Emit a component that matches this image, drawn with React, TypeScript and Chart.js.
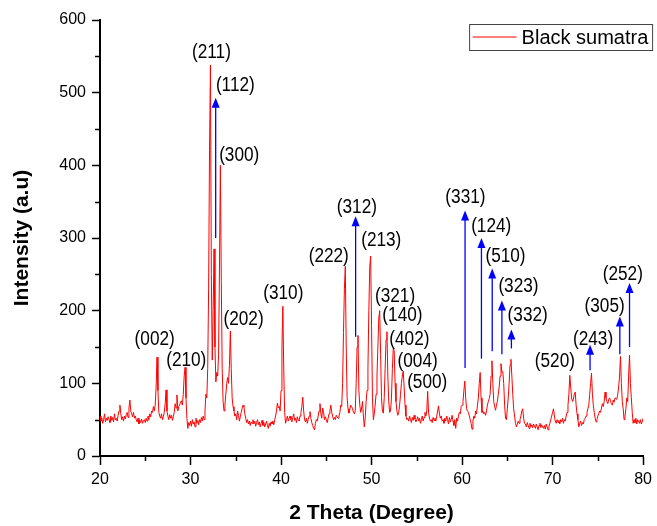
import React, { useEffect, useRef } from 'react';
import { Chart, registerables } from 'chart.js';

Chart.register(...registerables);

// 2θ grid: 20.0 .. 80.0 in 0.1° steps (one row of ten readings per degree)
const thetaStart = 20;
const thetaStep = 0.1;
const intensity: number[] = [
  55, 48, 52, 45, 50, 58, 47, 52, 49, 54, // 20
  50, 46, 55, 49, 53, 47, 58, 50, 52, 48, // 21
  56, 62, 70, 58, 50, 54, 48, 55, 51, 57, // 22
  60, 53, 66, 77, 62, 58, 54, 60, 52, 55, // 23
  50, 47, 52, 44, 49, 46, 51, 45, 48, 50, // 24
  46, 52, 48, 55, 50, 58, 54, 62, 60, 68, // 25
  62, 70, 95, 136, 90, 60, 55, 52, 58, 50, // 26
  54, 60, 72, 91, 62, 55, 50, 57, 52, 56, // 27
  49, 54, 60, 72, 66, 84, 62, 68, 70, 74, // 28
  76, 70, 85, 110, 122, 80, 52, 38, 46, 42, // 29
  48, 41, 50, 44, 47, 40, 52, 45, 49, 43, // 30
  50, 46, 53, 48, 55, 50, 62, 85, 80, 120, // 31
  230, 420, 538, 250, 132, 200, 285, 150, 102, 115, // 32
  110, 140, 260, 400, 240, 120, 75, 62, 70, 85, // 33
  100, 108, 100, 125, 172, 120, 80, 68, 62, 55, // 34
  58, 50, 62, 56, 48, 54, 60, 66, 70, 68, // 35
  58, 52, 46, 50, 44, 48, 42, 47, 45, 50, // 36
  44, 48, 41, 46, 50, 43, 47, 40, 45, 49, // 37
  42, 46, 40, 44, 48, 42, 38, 45, 41, 47, // 38
  44, 48, 43, 50, 55, 62, 73, 66, 68, 62, // 39
  90, 150, 206, 120, 60, 45, 50, 55, 48, 52, // 40
  55, 50, 47, 53, 58, 49, 52, 46, 54, 50, // 41
  48, 55, 60, 68, 81, 62, 50, 47, 52, 45, // 42
  50, 55, 61, 52, 46, 42, 38, 36, 45, 50, // 43
  48, 55, 62, 72, 58, 52, 66, 60, 50, 54, // 44
  50, 46, 52, 58, 62, 70, 60, 55, 50, 53, // 45
  50, 56, 54, 52, 55, 60, 70, 68, 100, 170, // 46
  230, 261, 150, 80, 65, 59, 64, 70, 68, 65, // 47
  60, 58, 62, 100, 150, 166, 90, 70, 60, 66, // 48
  75, 55, 40, 52, 75, 90, 120, 200, 260, 275, // 49
  180, 80, 50, 58, 70, 85, 110, 150, 190, 200, // 50
  140, 80, 62, 59, 80, 120, 160, 171, 110, 75, // 51
  60, 62, 80, 120, 148, 145, 100, 75, 62, 56, // 52
  60, 70, 85, 100, 110, 117, 95, 70, 55, 50, // 53
  52, 48, 55, 50, 46, 53, 49, 56, 51, 47, // 54
  50, 54, 48, 52, 45, 50, 55, 48, 53, 60, // 55
  55, 62, 89, 60, 52, 48, 50, 46, 53, 49, // 56
  52, 48, 55, 62, 69, 58, 52, 55, 48, 50, // 57
  45, 52, 48, 55, 50, 44, 53, 47, 50, 56, // 58
  48, 42, 50, 38, 52, 48, 55, 60, 58, 68, // 59
  70, 75, 90, 103, 80, 65, 62, 60, 55, 50, // 60
  45, 37, 48, 55, 52, 62, 58, 70, 80, 100, // 61
  115, 80, 60, 62, 58, 60, 56, 62, 70, 75, // 62
  79, 85, 110, 131, 100, 75, 68, 63, 70, 75, // 63
  85, 95, 110, 127, 115, 116, 100, 70, 52, 50, // 64
  65, 80, 100, 125, 133, 110, 85, 65, 55, 45, // 65
  40, 44, 48, 45, 50, 55, 62, 65, 52, 45, // 66
  44, 40, 46, 42, 38, 45, 40, 43, 39, 44, // 67
  41, 38, 44, 40, 36, 42, 45, 39, 43, 40, // 68
  38, 42, 37, 44, 40, 36, 41, 45, 50, 55, // 69
  60, 65, 55, 48, 45, 50, 46, 49, 44, 50, // 70
  47, 52, 45, 50, 48, 55, 60, 70, 85, 111, // 71
  95, 80, 75, 78, 85, 88, 70, 58, 50, 40, // 72
  45, 48, 42, 46, 44, 50, 52, 55, 60, 65, // 73
  70, 85, 100, 114, 85, 70, 60, 52, 47, 50, // 74
  55, 58, 62, 60, 66, 72, 68, 75, 88, 80, // 75
  75, 72, 78, 80, 76, 72, 70, 77, 74, 80, // 76
  80, 78, 85, 95, 110, 137, 100, 75, 65, 50, // 77
  55, 65, 80, 75, 110, 139, 100, 80, 60, 45, // 78
  50, 46, 52, 44, 50, 48, 45, 50, 44, 47, // 79
  52, // 80
];

// Miller-index annotations (text, 2θ, intensity of label centre)
const hklText = ['(211)', '(112)', '(300)', '(002)', '(210)', '(202)', '(310)', '(222)', '(312)', '(213)', '(321)', '(140)', '(402)', '(004)', '(500)', '(331)', '(124)', '(510)', '(323)', '(332)', '(520)', '(243)', '(305)', '(252)'];
const hklX = [32.31, 34.95, 35.38, 26.04, 29.53, 35.86, 40.25, 45.27, 48.38, 51.07, 52.6, 53.41, 54.18, 55.09, 56.15, 60.37, 63.22, 64.8, 66.23, 67.25, 70.25, 74.47, 75.75, 77.76];
const hklY = [555, 510, 414, 161, 131, 188, 224, 275, 342, 297, 220, 193, 161, 130, 101, 356, 316, 275, 233, 193, 130, 161, 206, 250];

// Blue arrows (2θ, start intensity, tip intensity)
const arrowX = [32.78, 48.24, 60.33, 62.14, 63.33, 64.4, 65.45, 74.14, 77.43, 78.5];
const arrowFrom = [300, 164, 121, 134, 144, 140, 148, 118, 140, 150];
const arrowTo = [493, 330, 338, 300, 258, 214, 174, 153, 192, 238];

const xMin = 20, xMax = 80, xStep = 10;
const yMin = 0, yMax = 600, yStep = 100;
const seriesName = 'Black sumatra';
const xTitle = '2 Theta (Degree)';
const yTitle = 'Intensity (a.u)';

const FONT = '"Liberation Sans", Arial, Helvetica, sans-serif';

const overlayPlugin = {
  id: 'xrdOverlay',
  afterDatasetsDraw(chart: any) {
    const { ctx, scales, chartArea } = chart;
    const xs = scales.x, ys = scales.y;
    ctx.save();
    // minor ticks
    ctx.strokeStyle = '#000';
    ctx.lineWidth = 1.5;
    ctx.beginPath();
    for (let v = yMin + yStep / 2; v < yMax; v += yStep) {
      const py = Math.round(ys.getPixelForValue(v)) + 0.5;
      ctx.moveTo(chartArea.left - 5, py);
      ctx.lineTo(chartArea.left, py);
    }
    for (let v = xMin + xStep / 2; v < xMax; v += xStep) {
      const px = Math.round(xs.getPixelForValue(v)) + 0.5;
      ctx.moveTo(px, chartArea.bottom);
      ctx.lineTo(px, chartArea.bottom + 5);
    }
    ctx.stroke();

    // arrows
    ctx.strokeStyle = '#0000ff';
    ctx.fillStyle = '#0000ff';
    ctx.lineWidth = 1.3;
    for (let i = 0; i < arrowX.length; i++) {
      const px = xs.getPixelForValue(arrowX[i]);
      const y0 = ys.getPixelForValue(arrowFrom[i]);
      const y1 = ys.getPixelForValue(arrowTo[i]);
      ctx.beginPath();
      ctx.moveTo(px, y0);
      ctx.lineTo(px, y1 + 8);
      ctx.stroke();
      ctx.beginPath();
      ctx.moveTo(px, y1);
      ctx.lineTo(px - 4, y1 + 10);
      ctx.lineTo(px + 4, y1 + 10);
      ctx.closePath();
      ctx.fill();
    }

    // labels
    ctx.fillStyle = '#000';
    ctx.font = `20px ${FONT}`;
    ctx.textAlign = 'center';
    ctx.textBaseline = 'middle';
    for (let i = 0; i < hklText.length; i++) {
      const px = xs.getPixelForValue(hklX[i]);
      const py = ys.getPixelForValue(hklY[i]);
      ctx.save();
      ctx.translate(px, py);
      ctx.scale(0.86, 1);
      ctx.fillText(hklText[i], 0, 0);
      ctx.restore();
    }

    // legend box
    const bx = chartArea.right - 173.5;
    const by = chartArea.top + 4.5;
    ctx.fillStyle = '#fff';
    ctx.fillRect(bx, by, 183, 26);
    ctx.strokeStyle = '#444';
    ctx.lineWidth = 1;
    ctx.strokeRect(bx, by, 183, 26);
    ctx.strokeStyle = '#ff0000';
    ctx.beginPath();
    ctx.moveTo(bx + 3, by + 12.5);
    ctx.lineTo(bx + 47, by + 12.5);
    ctx.stroke();
    ctx.fillStyle = '#000';
    ctx.font = `20px ${FONT}`;
    ctx.textAlign = 'left';
    ctx.textBaseline = 'middle';
    ctx.fillText(seriesName, bx + 52, by + 13.5);
    ctx.restore();
  },
};

export default function App() {
  const canvasRef = useRef<HTMLCanvasElement | null>(null);

  useEffect(() => {
    if (!canvasRef.current) return;
    const points = intensity.map((v, i) => ({
      x: Math.round((thetaStart + i * thetaStep) * 10) / 10,
      y: v,
    }));
    const tickFont = { family: FONT, size: 16 };
    const titleFont = { family: FONT, size: 21, weight: 'bold' as const };
    const chart = new Chart(canvasRef.current, {
      type: 'line',
      data: {
        datasets: [
          {
            label: seriesName,
            data: points,
            borderColor: '#ff0000',
            borderWidth: 1,
            pointRadius: 0,
            tension: 0,
            fill: false,
          },
        ],
      },
      options: {
        animation: false,
        responsive: true,
        maintainAspectRatio: false,
        events: [],
        layout: { padding: { left: 0, top: 20, right: 11, bottom: 0 } },
        plugins: { legend: { display: false }, tooltip: { enabled: false } },
        scales: {
          x: {
            type: 'linear',
            min: xMin,
            max: xMax,
            ticks: { stepSize: xStep, font: tickFont, color: '#000', padding: 5, maxRotation: 0 },
            grid: { drawOnChartArea: false, tickLength: 9, tickColor: '#000', tickWidth: 1.5 },
            border: { color: '#000', width: 2 },
            title: { display: true, text: xTitle, font: titleFont, color: '#000', padding: 0 },
            afterFit: (s: any) => { s.height = 70; },
          },
          y: {
            type: 'linear',
            min: yMin,
            max: yMax,
            ticks: { stepSize: yStep, font: tickFont, color: '#000', padding: 6 },
            grid: { drawOnChartArea: false, tickLength: 8, tickColor: '#000', tickWidth: 1.5 },
            border: { color: '#000', width: 2 },
            title: { display: true, text: yTitle, font: titleFont, color: '#000', padding: { top: 10, bottom: 0 } },
            afterFit: (s: any) => { s.width = 100; },
          },
        },
      },
      plugins: [overlayPlugin],
    });
    return () => chart.destroy();
  }, []);

  return (
    <div style={{ position: 'absolute', left: 0, top: 0, width: 657, height: 526, background: '#fff' }}>
      <canvas ref={canvasRef} />
    </div>
  );
}
